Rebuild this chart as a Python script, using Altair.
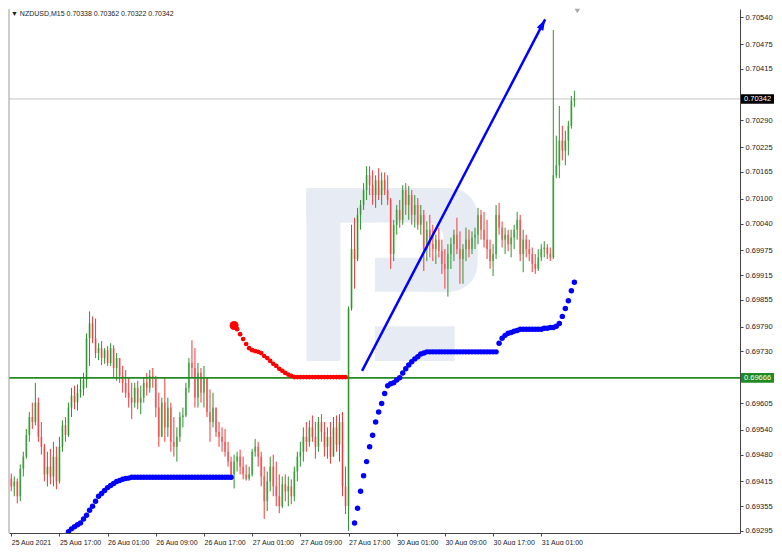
import math
import altair as alt
import pandas as pd

# ---------------- data ----------------
TITLE = "\u25bc NZDUSD,M15  0.70338 0.70362 0.70322 0.70342"
time_labels = ["25 Aug 2021", "25 Aug 17:00", "26 Aug 01:00", "26 Aug 09:00",
               "26 Aug 17:00", "27 Aug 01:00", "27 Aug 09:00", "27 Aug 17:00",
               "30 Aug 01:00", "30 Aug 09:00", "30 Aug 17:00", "31 Aug 01:00"]
BARS_PER_LABEL = 32      # 15-minute bars between two time labels (8 hours)
BARS_PER_CANDLE = 2      # each drawn candle stands for two 15-minute bars
price_ticks = [0.70540, 0.70475, 0.70415, 0.70350, 0.70290, 0.70225, 0.70165,
               0.70100, 0.70040, 0.69975, 0.69915, 0.69855, 0.69790, 0.69730,
               0.69605, 0.69540, 0.69480, 0.69415, 0.69355, 0.69295]
hidden_tick = 0.70350    # label hidden behind the current-price tag

POINT = 1e-5  # prices below are in points (1e-5)
first_open = 69422
candle_high = [
    69434, 69427, 69422, 69456, 69487, 69542, 69583, 69606, 69654, 69618,
    69559, 69506, 69487, 69494, 69511, 69499, 69523, 69563, 69571, 69606,
    69642, 69647, 69650, 69666, 69678, 69774, 69827, 69815, 69810, 69750,
    69755, 69738, 69743, 69750, 69745, 69726, 69714, 69695, 69685, 69666,
    69654, 69654, 69659, 69647, 69666, 69678, 69685, 69690, 69671, 69630,
    69618, 69666, 69618, 69606, 69571, 69546, 69583, 69594, 69654, 69714,
    69757, 69738, 69702, 69690, 69695, 69666, 69638, 69630, 69594, 69559,
    69546, 69542, 69511, 69475, 69480, 69487, 69492, 69475, 69456, 69451,
    69494, 69518, 69511, 69487, 69451, 69439, 69475, 69480, 69463, 69432,
    69427, 69432, 69427, 69420, 69451, 69487, 69511, 69546, 69559, 69563,
    69575, 69559, 69571, 69578, 69559, 69546, 69559, 69571, 69575, 69578,
    69583, 69451, 69839, 70037, 70054, 70078, 70097, 70138, 70179, 70179,
    70169, 70157, 70174, 70164, 70164, 70157, 70102, 70049, 70085, 70097,
    70133, 70138, 70131, 70121, 70109, 70102, 70085, 70073, 70045, 70061,
    70037, 70013, 70030, 70001, 69978, 69990, 70006, 70025, 70054, 70021,
    69990, 70030, 70025, 70021, 70030, 70078, 70073, 70068, 70049, 70001,
    69990, 70085, 70090, 70045, 70030, 70025, 70025, 70037, 70068, 70061,
    70025, 70013, 70001, 69982, 69966, 69978, 69990, 69997, 69990, 69982,
    70509, 70253, 70325, 70277, 70265, 70289, 70349, 70362]
candle_low = [
    69391, 69379, 69362, 69367, 69427, 69470, 69511, 69542, 69551, 69511,
    69480, 69415, 69403, 69408, 69403, 69396, 69410, 69487, 69511, 69523,
    69571, 69590, 69587, 69618, 69623, 69642, 69695, 69750, 69714, 69709,
    69697, 69700, 69695, 69695, 69666, 69659, 69654, 69630, 69618, 69594,
    69566, 69594, 69590, 69578, 69606, 69623, 69630, 69642, 69571, 69499,
    69523, 69511, 69523, 69487, 69475, 69463, 69511, 69546, 69571, 69630,
    69666, 69594, 69594, 69606, 69594, 69571, 69511, 69546, 69523, 69499,
    69487, 69475, 69451, 69427, 69398, 69439, 69432, 69420, 69417, 69417,
    69427, 69475, 69451, 69403, 69324, 69343, 69391, 69379, 69355, 69338,
    69350, 69367, 69355, 69360, 69367, 69415, 69451, 69463, 69487, 69499,
    69511, 69470, 69487, 69511, 69475, 69470, 69458, 69475, 69487, 69463,
    69379, 69336, 69295, 69829, 69882, 69949, 70025, 70073, 70097, 70109,
    70085, 70078, 70097, 70085, 70109, 70085, 69930, 69949, 70013, 70030,
    70037, 70061, 70049, 70037, 70030, 70025, 70013, 69925, 69949, 69958,
    69949, 69942, 69958, 69918, 69882, 69863, 69930, 69949, 69966, 69894,
    69894, 69949, 69958, 69966, 69978, 69990, 70001, 69982, 69954, 69930,
    69913, 69954, 70013, 69982, 69966, 69973, 69958, 69978, 70001, 69949,
    69922, 69958, 69949, 69922, 69918, 69925, 69949, 69958, 69954, 69949,
    69954, 70150, 70150, 70193, 70181, 70205, 70270, 70322]
candle_close = [
    69403, 69415, 69379, 69446, 69475, 69527, 69571, 69559, 69606, 69523,
    69499, 69432, 69451, 69427, 69475, 69415, 69499, 69551, 69527, 69594,
    69623, 69606, 69630, 69638, 69661, 69762, 69798, 69762, 69726, 69738,
    69714, 69733, 69702, 69738, 69690, 69714, 69671, 69654, 69630, 69618,
    69606, 69642, 69606, 69618, 69654, 69642, 69671, 69666, 69594, 69523,
    69606, 69546, 69594, 69511, 69499, 69523, 69571, 69575, 69642, 69702,
    69690, 69618, 69678, 69630, 69666, 69583, 69559, 69594, 69535, 69523,
    69511, 69487, 69463, 69432, 69463, 69475, 69451, 69432, 69422, 69432,
    69487, 69499, 69475, 69427, 69367, 69415, 69451, 69403, 69379, 69355,
    69408, 69391, 69403, 69379, 69439, 69475, 69487, 69523, 69511, 69546,
    69523, 69499, 69559, 69535, 69499, 69523, 69475, 69546, 69504, 69559,
    69403, 69355, 69834, 69978, 69954, 70061, 70085, 70121, 70157, 70133,
    70109, 70145, 70109, 70145, 70121, 70097, 69966, 70037, 70073, 70049,
    70121, 70085, 70109, 70061, 70085, 70037, 70061, 69978, 70025, 69990,
    69978, 70001, 69973, 69942, 69930, 69966, 69990, 70013, 69978, 69954,
    69978, 70001, 69978, 70006, 70013, 70061, 70025, 70001, 69978, 69949,
    69966, 70061, 70030, 70001, 70013, 69990, 70006, 70025, 70049, 69966,
    70001, 69978, 69966, 69942, 69930, 69958, 69978, 69982, 69966, 69958,
    70157, 70181, 70241, 70217, 70241, 70277, 70338, 70342]

# red dotted indicator (candles 74..111)
red_start = 74
red_dots = [69793, 69784, 69772, 69760, 69748, 69738, 69733, 69731, 69729, 69726,
            69719, 69714, 69707, 69700, 69695, 69688, 69683, 69678, 69674, 69671,
            69668, 69668, 69668, 69668, 69668, 69668, 69668, 69668, 69668, 69668,
            69668, 69668, 69668, 69668, 69668, 69668, 69668, 69668]
# blue dotted indicator, first run (candles 19..73)
blue1_start = 19
blue1_dots = [69293, 69300, 69305, 69310, 69314, 69324, 69333, 69345, 69355, 69367,
              69379, 69386, 69393, 69400, 69405, 69410, 69415, 69417, 69420, 69422,
              69423, 69425, 69425, 69425, 69425, 69425, 69425, 69425, 69425, 69425,
              69425, 69425, 69425, 69425, 69425, 69425, 69425, 69425, 69425, 69425,
              69425, 69425, 69425, 69425, 69425, 69425, 69425, 69425, 69425, 69425,
              69425, 69425, 69425, 69425, 69425]
# blue dotted indicator, second run (candles 114..187)
blue2_start = 114
blue2_dots = [69314, 69350, 69391, 69429, 69463, 69499, 69527, 69559, 69583, 69604,
              69628, 69647, 69652, 69654, 69661, 69666, 69678, 69688, 69697, 69705,
              69712, 69717, 69724, 69726, 69729, 69729, 69729, 69729, 69729, 69729,
              69729, 69729, 69729, 69729, 69729, 69729, 69729, 69729, 69729, 69729,
              69729, 69729, 69729, 69729, 69729, 69729, 69729, 69729, 69750, 69762,
              69769, 69774, 69776, 69779, 69781, 69784, 69784, 69784, 69784, 69784,
              69784, 69784, 69784, 69786, 69786, 69788, 69788, 69791, 69798, 69815,
              69834, 69853, 69877, 69898]

arrow_bar = [233, 354.6]
arrow_price = [0.69683, 0.70535]
bid_price = 0.70342
level_price = 0.69666
shift_marker_bar = 376

# watermark logo boxes (bar index / price)
logo_box_x0 = [196.0, 196.0, 241.5, 241.5]
logo_box_x1 = [218.7, 292.0, 292.0, 294.5]
logo_box_p0 = [0.69707, 0.70042, 0.69875, 0.69707]
logo_box_p1 = [0.70126, 0.70126, 0.69958, 0.69791]
logo_bowl = [272.0, 309.8, 0.69875, 0.70126]
logo_counter = [241.5, 287.0, 0.69958, 0.70042]

# ---------------- layout ----------------
W, H = 731, 524
X_DOM = [-1.5, 484]
Y_DOM = [0.69290, 0.70560]
FONT = "Liberation Sans"
FS_Y = 7.5
FS_X = 7

xs = alt.Scale(domain=X_DOM, nice=False, zero=False)
ys = alt.Scale(domain=Y_DOM, nice=False, zero=False)
px_per_bar = W / (X_DOM[1] - X_DOM[0])
px_per_price = H / (Y_DOM[1] - Y_DOM[0])

labels_js = "[" + ",".join("'" + t + "'" for t in time_labels) + "]"
x_axis = alt.Axis(values=[j * BARS_PER_LABEL for j in range(len(time_labels))],
                  labelExpr=labels_js + "[round(datum.value / %d)]" % BARS_PER_LABEL,
                  title=None, grid=False, tickSize=3, labelPadding=2,
                  labelAlign="left", labelFont=FONT, labelFontSize=FS_X,
                  labelColor="#1a1a1a", domainColor="#444", tickColor="#444",
                  labelOverlap=False, labelFlush=False, labelBound=False)
y_axis = alt.Axis(orient="right", values=price_ticks, title=None,
                  labelExpr="abs(datum.value - %r) < 1e-7 ? '' : format(datum.value, '.5f')" % hidden_tick,
                  grid=False, tickSize=3, labelPadding=2, labelFont=FONT,
                  labelFontSize=FS_Y, labelColor="#1a1a1a", domainColor="#444",
                  tickColor="#444", labelOverlap=False, labelFlush=False,
                  labelBound=False)


def X(field):
    return alt.X(field, scale=xs, axis=x_axis)


def Y(field):
    return alt.Y(field, scale=ys, axis=y_axis)


# ---------------- tables ----------------
rows = []
prev = first_open
for k, (h, l, c) in enumerate(zip(candle_high, candle_low, candle_close)):
    rows.append({"bar": k * BARS_PER_CANDLE, "open": prev * POINT, "high": h * POINT,
                 "low": l * POINT, "close": c * POINT,
                 "dir": "up" if c >= prev else "down"})
    prev = c
candles = pd.DataFrame(rows)


def dots(start, values):
    return pd.DataFrame({"bar": [(start + j) * BARS_PER_CANDLE for j in range(len(values))],
                         "price": [v * POINT for v in values]})


red_df = dots(red_start, red_dots)
blue1_df = dots(blue1_start, blue1_dots)
blue2_df = dots(blue2_start, blue2_dots)
arrow_df = pd.DataFrame({"bar": arrow_bar, "price": arrow_price})
logo_df = pd.DataFrame({"x0": logo_box_x0, "x1": logo_box_x1,
                        "p0": logo_box_p0, "p1": logo_box_p1})
bowl_df = pd.DataFrame({"x0": [logo_bowl[0]], "x1": [logo_bowl[1]],
                        "p0": [logo_bowl[2]], "p1": [logo_bowl[3]]})
counter_df = pd.DataFrame({"x0": [logo_counter[0]], "x1": [logo_counter[1]],
                           "p0": [logo_counter[2]], "p1": [logo_counter[3]]})
lines_df = pd.DataFrame({"price": [bid_price, level_price], "kind": ["bid", "level"]})
half = 4.8 / px_per_price
tags = pd.DataFrame({"price": [bid_price, level_price],
                     "top": [bid_price + half, level_price + half],
                     "bot": [bid_price - half, level_price - half],
                     "txt": ["%.5f" % bid_price, "%.5f" % level_price],
                     "kind": ["bid", "level"]})
one = pd.DataFrame({"bar": [shift_marker_bar], "txt": [TITLE]})

LOGO = "#e7ecf4"
# ---------------- layers ----------------
bowl = alt.Chart(bowl_df).mark_rect(color=LOGO, cornerRadiusTopRight=30,
                                    cornerRadiusBottomRight=30).encode(
    x=X("x0:Q"), x2="x1", y=Y("p0:Q"), y2="p1")
logo = alt.Chart(logo_df).mark_rect(color=LOGO).encode(
    x=X("x0:Q"), x2="x1", y=Y("p0:Q"), y2="p1")
counter = alt.Chart(counter_df).mark_rect(color="white", cornerRadiusTopRight=15,
                                          cornerRadiusBottomRight=15).encode(
    x=X("x0:Q"), x2="x1", y=Y("p0:Q"), y2="p1")

bid_line = alt.Chart(lines_df.head(1)).mark_rule(color="#c4c4c4", strokeWidth=1).encode(
    y=Y("price:Q"))

body_color = alt.Color("dir:N", scale=alt.Scale(domain=["up", "down"],
                                                range=["#86c986", "#f49c9c"]), legend=None)
wick_color = alt.Color("dir:N", scale=alt.Scale(domain=["up", "down"],
                                                range=["#2e922e", "#f03a3a"]), legend=None)
bodies = alt.Chart(candles).mark_rule(strokeWidth=2, clip=True).encode(
    x=X("bar:Q"), y=Y("open:Q"), y2="close", color=body_color)
wicks = alt.Chart(candles).mark_rule(strokeWidth=1, clip=True).encode(
    x=X("bar:Q"), y=Y("low:Q"), y2="high", color=wick_color)

level_line = alt.Chart(lines_df.tail(1)).mark_rule(color="#238a23", strokeWidth=1.6).encode(
    y=Y("price:Q"))

red = alt.Chart(red_df).mark_circle(size=22, color="#ff0000", opacity=1, clip=True).encode(
    x=X("bar:Q"), y=Y("price:Q"))
red_first = alt.Chart(red_df.head(1)).mark_circle(size=80, color="#ff0000", opacity=1).encode(
    x=X("bar:Q"), y=Y("price:Q"))
blue1 = alt.Chart(blue1_df).mark_circle(size=30, color="#0000ff", opacity=1, clip=True).encode(
    x=X("bar:Q"), y=Y("price:Q"))
blue2 = alt.Chart(blue2_df).mark_circle(size=30, color="#0000ff", opacity=1, clip=True).encode(
    x=X("bar:Q"), y=Y("price:Q"))

arrow_line = alt.Chart(arrow_df).mark_line(color="#0000ff", strokeWidth=2.5).encode(
    x=X("bar:Q"), y=Y("price:Q"))
ang = math.degrees(math.atan2((arrow_bar[1] - arrow_bar[0]) * px_per_bar,
                              (arrow_price[1] - arrow_price[0]) * px_per_price))
arrow_head = alt.Chart(arrow_df.tail(1)).mark_point(
    shape="M0,0L0.6,1.8L-0.6,1.8Z", size=150, filled=True, opacity=1,
    color="#0000ff", angle=ang).encode(x=X("bar:Q"), y=Y("price:Q"))

left_border = alt.Chart(one).mark_rule(color="#9a9a9a", strokeWidth=1).encode(
    x=alt.value(0), y=alt.value(0), y2=alt.value(H))
shift_marker = alt.Chart(one).mark_point(shape="triangle-down", filled=True,
                                         size=30, color="#a8a8a8", opacity=1).encode(
    x=X("bar:Q"), y=alt.value(2))
title = alt.Chart(one).mark_text(align="left", baseline="middle", font=FONT,
                                 fontSize=FS_X, color="#1a1a1a").encode(
    x=alt.value(2), y=alt.value(5), text="txt:N")

tag_box = alt.Chart(tags).mark_rect(clip=False).encode(
    x=alt.value(W + 1), x2=alt.value(W + 34),
    y=Y("top:Q"), y2="bot",
    color=alt.Color("kind:N", scale=alt.Scale(domain=["bid", "level"],
                                              range=["#000000", "#1f8a1f"]), legend=None))
tag_text = alt.Chart(tags).mark_text(align="left", baseline="middle", font=FONT,
                                     fontSize=FS_Y, color="white", clip=False).encode(
    x=alt.value(W + 4), y=Y("price:Q"), text="txt:N")

chart = alt.layer(
    bowl, logo, counter, bid_line, bodies, wicks, level_line,
    red, red_first, blue1, blue2, arrow_line, arrow_head,
    left_border, shift_marker, title, tag_box, tag_text
).resolve_scale(color="independent").properties(
    width=W, height=H, padding=0, background="white"
).configure_view(stroke=None)

chart.save("out.html", embed_options={"renderer": "svg", "actions": False})
